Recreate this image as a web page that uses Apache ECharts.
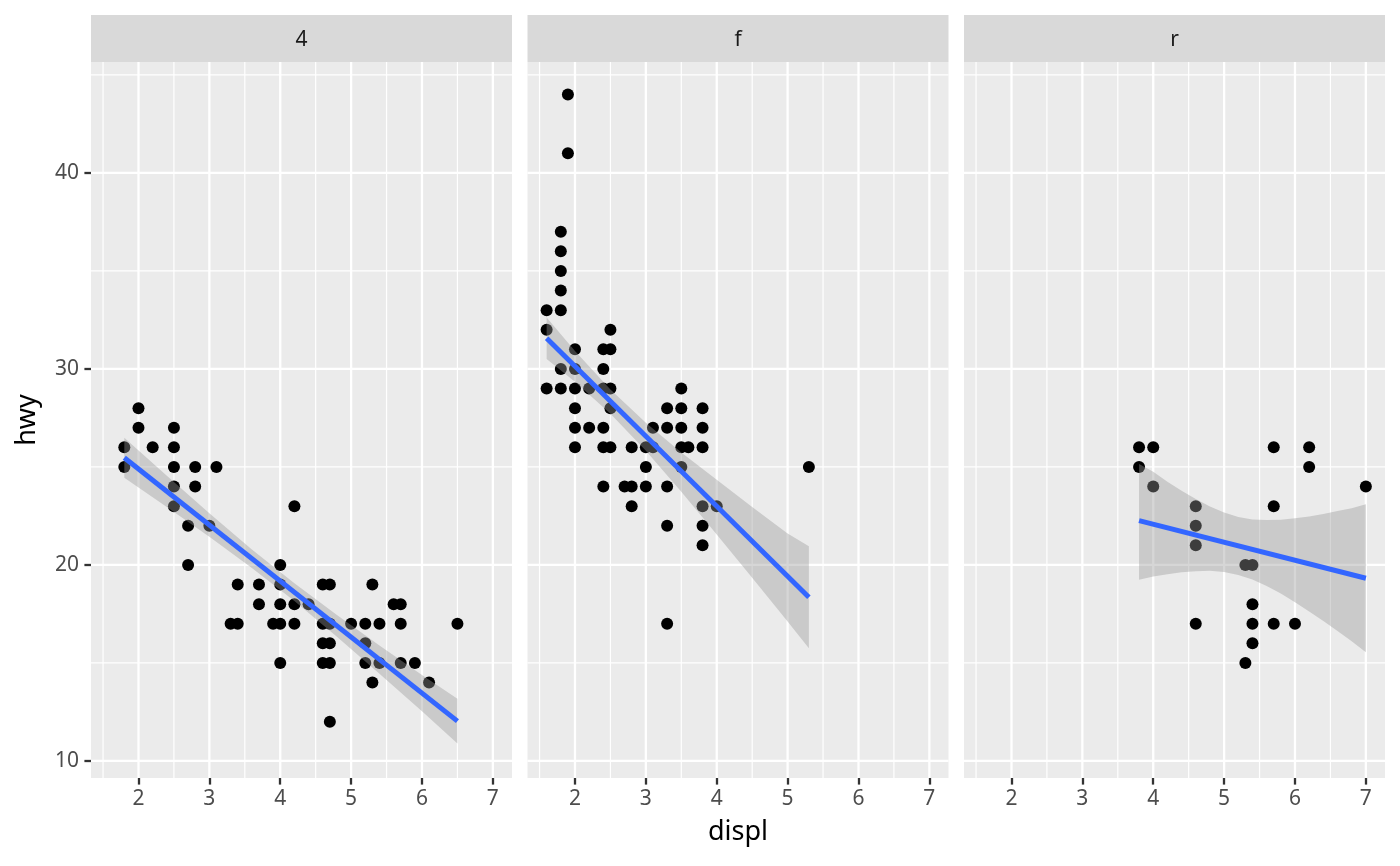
<!DOCTYPE html>
<html>
<head>
<meta charset="utf-8">
<title>hwy vs displ by drv</title>
<script src="https://cdn.jsdelivr.net/npm/echarts@6.0.0/dist/echarts.min.js"></script>
<style>
  html, body { margin: 0; padding: 0; background: #fff; }
  #main { width: 1400px; height: 866px; }
</style>
</head>
<body>
<div id="main"></div>
<script>
// facet labels (drv)
var drvLabels = ['4', 'f', 'r'];

// points [displ, hwy] per facet
var pts4 = [
  [1.8, 26], [1.8, 25], [2.0, 28], [2.0, 27], [2.2, 26], [2.5, 27], [2.5, 26], [2.5, 25],
  [2.5, 24], [2.5, 23], [2.7, 22], [2.7, 20], [2.8, 25], [2.8, 24], [3.0, 22], [3.1, 25],
  [3.3, 17], [3.4, 17], [3.4, 19], [3.7, 19], [3.7, 18], [3.9, 17], [4.0, 20], [4.0, 19],
  [4.0, 18], [4.0, 17], [4.0, 15], [4.2, 23], [4.2, 18], [4.2, 17], [4.4, 18], [4.6, 19],
  [4.6, 17], [4.6, 16], [4.6, 15], [4.7, 19], [4.7, 17], [4.7, 16], [4.7, 15], [4.7, 12],
  [5.0, 17], [5.2, 17], [5.2, 16], [5.2, 15], [5.3, 19], [5.3, 14], [5.4, 17], [5.4, 15],
  [5.6, 18], [5.7, 18], [5.7, 17], [5.7, 15], [5.9, 15], [6.1, 14], [6.5, 17]
];
var ptsF = [
  [1.6, 33], [1.6, 32], [1.6, 29], [1.8, 37], [1.8, 36], [1.8, 35], [1.8, 34], [1.8, 33],
  [1.8, 30], [1.8, 29], [1.9, 44], [1.9, 41], [2.0, 31], [2.0, 30], [2.0, 29], [2.0, 28],
  [2.0, 27], [2.0, 26], [2.2, 29], [2.2, 27], [2.4, 31], [2.4, 30], [2.4, 29], [2.4, 27],
  [2.4, 26], [2.4, 24], [2.5, 32], [2.5, 31], [2.5, 29], [2.5, 28], [2.5, 26], [2.7, 24],
  [2.8, 26], [2.8, 24], [2.8, 23], [3.0, 26], [3.0, 25], [3.0, 24], [3.1, 27], [3.1, 26],
  [3.3, 28], [3.3, 27], [3.3, 24], [3.3, 22], [3.3, 17], [3.5, 29], [3.5, 28], [3.5, 27],
  [3.5, 26], [3.5, 25], [3.6, 26], [3.8, 28], [3.8, 27], [3.8, 26], [3.8, 23], [3.8, 22],
  [3.8, 21], [4.0, 23], [5.3, 25]
];
var ptsR = [
  [3.8, 26], [3.8, 25], [4.0, 26], [4.0, 24], [4.6, 23], [4.6, 22], [4.6, 21], [4.6, 17],
  [5.3, 20], [5.3, 15], [5.4, 20], [5.4, 18], [5.4, 17], [5.4, 16], [5.7, 26], [5.7, 23],
  [5.7, 17], [6.0, 17], [6.2, 26], [6.2, 25], [7.0, 24]
];

// lm fit end points
var fit4 = [[1.8, 25.47], [6.5, 12.03]];
var fitF = [[1.6, 31.57], [5.3, 18.35]];
var fitR = [[3.8, 22.26], [7.0, 19.32]];

// confidence band (x, lower, upper)
var band4X  = [1.8, 2.4, 3.0, 3.6, 4.2, 4.8, 5.4, 6.0, 6.5];
var band4Lo = [24.45, 22.95, 21.44, 19.85, 18.16, 16.34, 14.45, 12.53, 10.89];
var band4Hi = [26.49, 24.55, 22.64, 20.79, 19.06, 17.44, 15.89, 14.39, 13.17];

var bandFX  = [1.6, 2.0, 2.5, 3.0, 3.5, 4.0, 4.5, 5.0, 5.3];
var bandFLo = [30.51, 29.35, 27.71, 25.82, 23.74, 21.55, 19.35, 17.11, 15.75];
var bandFHi = [32.63, 30.91, 28.95, 27.26, 25.74, 24.35, 22.95, 21.61, 20.95];

var bandRX  = [3.8, 4.0, 4.2, 4.4, 4.6, 4.8, 5.0, 5.2, 5.4, 5.6, 5.8, 6.0, 6.2, 6.4, 6.6, 6.8, 7.0];
var bandRLo = [19.25, 19.41, 19.53, 19.63, 19.68, 19.70, 19.64, 19.49, 19.26, 18.93, 18.54,
               18.10, 17.63, 17.14, 16.63, 16.11, 15.54];
var bandRHi = [25.15, 24.75, 24.25, 23.79, 23.36, 22.98, 22.68, 22.45, 22.32, 22.29, 22.30,
               22.38, 22.47, 22.60, 22.75, 22.89, 23.10];

// axis breaks
var xMajor = [2, 3, 4, 5, 6, 7];
var xMinor = [1.5, 2.5, 3.5, 4.5, 5.5, 6.5];
var yMajor = [10, 20, 30, 40];
var yMinor = [15, 25, 35, 45];

var X_MIN = 1.33, X_MAX = 7.27;
var Y_MIN = 9.13, Y_MAX = 45.66;

// layout
var panelLeft = [91, 527.5, 964];
var panelW = 421;
var panelTop = 62;
var panelH = 716;
var stripTop = 15;
var FONT = 'Noto Sans';

var facets = [
  { pts: pts4, fit: fit4, bx: band4X, lo: band4Lo, hi: band4Hi },
  { pts: ptsF, fit: fitF, bx: bandFX, lo: bandFLo, hi: bandFHi },
  { pts: ptsR, fit: fitR, bx: bandRX, lo: bandRLo, hi: bandRHi }
];

// gridline rows: [value, dir(0 = vertical, 1 = horizontal), major]
var gridRows = [];
xMinor.forEach(function (v) { gridRows.push([v, 0, 0]); });
yMinor.forEach(function (v) { gridRows.push([v, 1, 0]); });
xMajor.forEach(function (v) { gridRows.push([v, 0, 1]); });
yMajor.forEach(function (v) { gridRows.push([v, 1, 1]); });

function renderGridLine(params, api) {
  var cs = params.coordSys;
  var v = api.value(0), dir = api.value(1), major = api.value(2);
  var shape;
  if (dir === 0) {
    var px = api.coord([v, Y_MIN])[0];
    shape = { x1: px, y1: cs.y, x2: px, y2: cs.y + cs.height };
  } else {
    var py = api.coord([X_MIN, v])[1];
    shape = { x1: cs.x, y1: py, x2: cs.x + cs.width, y2: py };
  }
  return {
    type: 'line',
    shape: shape,
    style: { stroke: '#FFFFFF', lineWidth: major ? 2.3 : 1.2 }
  };
}

function ribbonRenderer(xs, lo, hi) {
  return function (params, api) {
    var pts = [];
    for (var i = 0; i < xs.length; i++) pts.push(api.coord([xs[i], hi[i]]));
    for (var j = xs.length - 1; j >= 0; j--) pts.push(api.coord([xs[j], lo[j]]));
    return {
      type: 'polygon',
      shape: { points: pts },
      style: { fill: 'rgba(153,153,153,0.4)' }
    };
  };
}

var grids = [], xAxes = [], yAxes = [], series = [], graphics = [];

facets.forEach(function (f, i) {
  grids.push({
    left: panelLeft[i], top: panelTop, width: panelW, height: panelH,
    show: true, backgroundColor: '#EBEBEB', borderWidth: 0
  });

  var xa = {
    gridIndex: i, type: 'value', min: X_MIN, max: X_MAX,
    axisLine: { show: false },
    splitLine: { show: false },
    axisTick: {
      show: true, customValues: xMajor, length: 6.6,
      lineStyle: { color: '#333333', width: 2.3 }
    },
    axisLabel: {
      customValues: xMajor, color: '#4D4D4D', fontSize: 21, fontFamily: FONT, margin: 11
    }
  };
  if (i === 1) {
    xa.name = 'displ';
    xa.nameLocation = 'middle';
    xa.nameGap = 41;
    xa.nameTextStyle = { color: '#000000', fontSize: 27, fontFamily: FONT };
  }
  xAxes.push(xa);

  var ya = {
    gridIndex: i, type: 'value', min: Y_MIN, max: Y_MAX,
    axisLine: { show: false },
    splitLine: { show: false }
  };
  if (i === 0) {
    ya.axisTick = {
      show: true, customValues: yMajor, length: 6.6,
      lineStyle: { color: '#333333', width: 2.3 }
    };
    ya.axisLabel = {
      customValues: yMajor, color: '#4D4D4D', fontSize: 21, fontFamily: FONT, margin: 12
    };
    ya.name = 'hwy';
    ya.nameLocation = 'middle';
    ya.nameGap = 50;
    ya.nameTextStyle = { color: '#000000', fontSize: 27, fontFamily: FONT };
  } else {
    ya.axisTick = { show: false };
    ya.axisLabel = { show: false };
  }
  yAxes.push(ya);

  // white grid lines
  series.push({
    type: 'custom', xAxisIndex: i, yAxisIndex: i,
    data: gridRows, renderItem: renderGridLine, silent: true, z: 1,
    clip: false
  });
  // points
  series.push({
    type: 'scatter', xAxisIndex: i, yAxisIndex: i,
    data: f.pts, symbolSize: 12, z: 2,
    itemStyle: { color: '#000000', opacity: 1 }
  });
  // confidence ribbon
  series.push({
    type: 'custom', xAxisIndex: i, yAxisIndex: i,
    data: [[f.bx[0], f.lo[0]]], renderItem: ribbonRenderer(f.bx, f.lo, f.hi),
    silent: true, z: 3
  });
  // fitted line
  series.push({
    type: 'line', xAxisIndex: i, yAxisIndex: i,
    data: f.fit, showSymbol: false, z: 4,
    lineStyle: { color: '#3366FF', width: 5 }
  });

  // strip
  graphics.push({
    type: 'rect',
    shape: { x: panelLeft[i], y: stripTop, width: panelW, height: panelTop - stripTop },
    style: { fill: '#D9D9D9' }
  });
  graphics.push({
    type: 'text',
    x: panelLeft[i] + panelW / 2, y: (stripTop + panelTop) / 2 + 1.5,
    style: {
      text: drvLabels[i], fill: '#1A1A1A', font: '21px "' + FONT + '"',
      align: 'center', verticalAlign: 'middle'
    }
  });
});

var chart = echarts.init(document.getElementById('main'));
chart.setOption({
  animation: false,
  backgroundColor: '#FFFFFF',
  grid: grids,
  xAxis: xAxes,
  yAxis: yAxes,
  series: series,
  graphic: graphics
});
</script>
</body>
</html>
